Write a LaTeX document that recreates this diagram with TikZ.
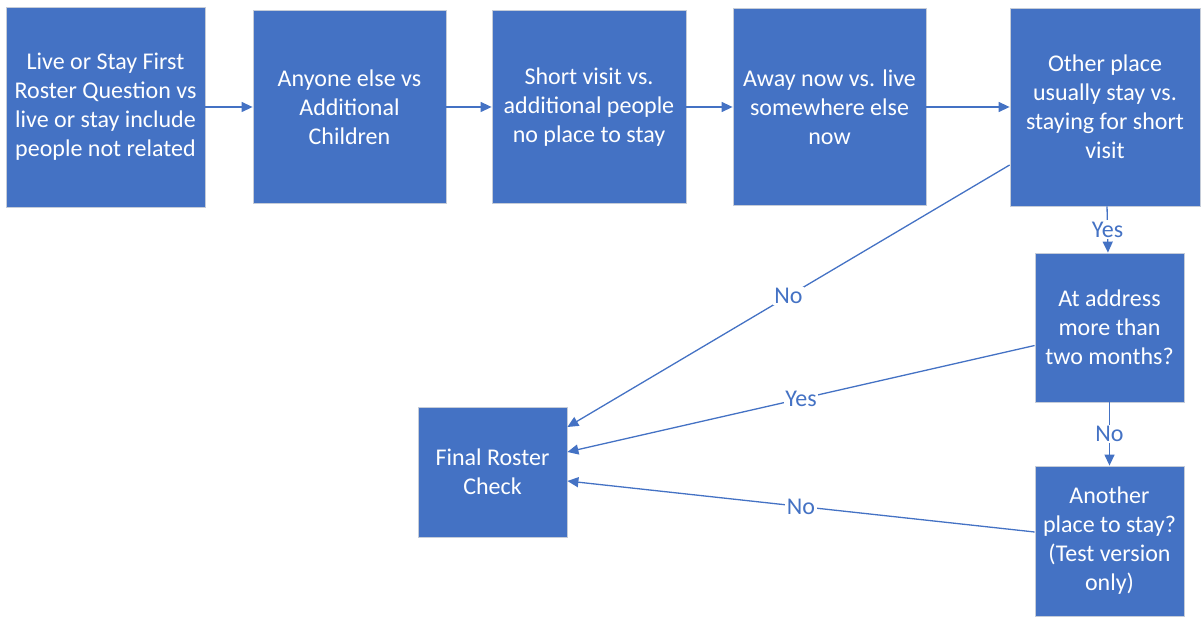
\documentclass[tikz,border=0pt]{standalone}
\usepackage{fontspec}
\setmainfont{Carlito}
\usetikzlibrary{arrows.meta}
\definecolor{boxcolor}{HTML}{4472C4}
\definecolor{rimcolor}{HTML}{C5CCD8}
\begin{document}
\begin{tikzpicture}[x=1pt,y=1pt,
 box/.style={fill=boxcolor,draw=rimcolor,line width=0.8pt,text=white,align=center,inner sep=0pt,font=\fontsize{24}{29}\selectfont},
 link/.style={boxcolor,line width=1.3pt,-{Triangle[length=11pt,width=10pt]}},
 answer/.style={fill=white,text=boxcolor,inner sep=1.5pt,font=\fontsize{24}{29}\selectfont}]
 \useasboundingbox (0,0) rectangle (1202,616);
 % top row
 \node [box,minimum width=199,minimum height=200] (live) at (105.5,509) {Live or Stay First\\Roster Question vs\\live or stay include\\people not related};
 \node [box,minimum width=193,minimum height=193] (anyone) at (349.5,509) {Anyone else vs\\Additional\\Children};
 \node [box,minimum width=194,minimum height=193] (short) at (589,509) {Short visit vs.\\additional people\\no place to stay};
 \node [box,minimum width=193,minimum height=197] (away) at (829.5,509) {Away now vs. live\\somewhere else\\now};
 \node [box,minimum width=190,minimum height=198] (other) at (1105,509) {Other place\\usually stay vs.\\staying for short\\visit};
 % right column and final check
 \node [box,minimum width=149,minimum height=149] (months) at (1109.5,288.5) {At address\\more than\\two months?};
 \node [box,minimum width=149,minimum height=150] (another) at (1109.5,75) {Another\\place to stay?\\(Test version\\only)};
 \node [box,minimum width=149,minimum height=130] (final) at (492.5,144) {Final Roster\\Check};
 \draw [link] (live) -- (anyone);
 \draw [link] (anyone) -- (short);
 \draw [link] (short) -- (away);
 \draw [link] (away) -- (other);
 \draw [link] (other) -- node [answer] {Yes} (months);
 \draw [link] (months) -- node [answer] {No} (another);
 \draw [link] ([yshift=-58pt]other.west) -- node [answer] {No} ([yshift=45pt]final.east);
 \draw [link] ([yshift=-18pt]months.west) -- node [answer] {Yes} ([yshift=20pt]final.east);
 \draw [link] ([yshift=9pt]another.west) -- node [answer] {No} ([yshift=-9pt]final.east);
\end{tikzpicture}
\end{document}
